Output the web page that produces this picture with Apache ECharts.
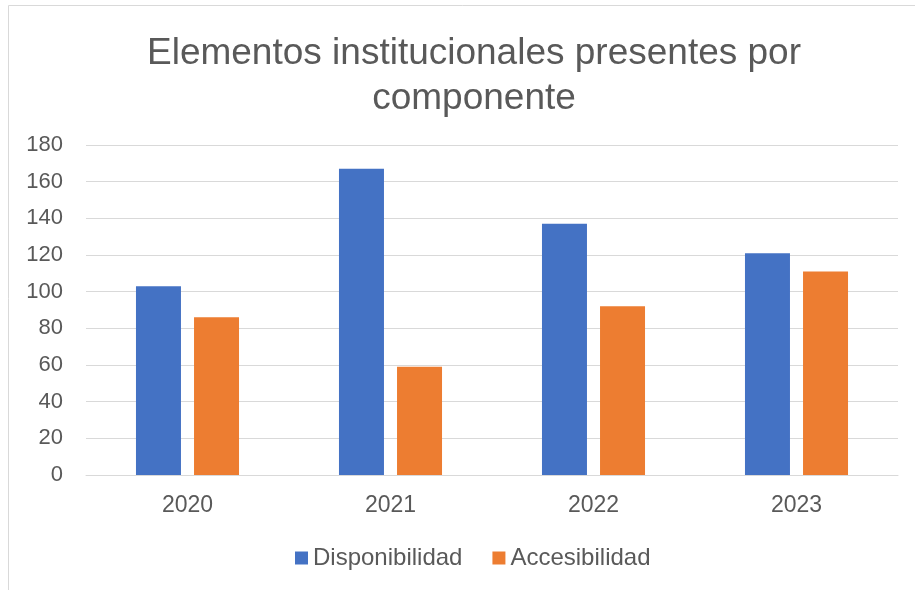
<!DOCTYPE html>
<html lang="es">
  <head>
    <meta charset="UTF-8" />
    <title>Elementos institucionales</title>
    <style>
      html, body { margin: 0; padding: 0; background: #fff; }
      #chart { width: 915px; height: 590px; }
    </style>
    <script src="https://cdn.jsdelivr.net/npm/echarts@6/dist/echarts.min.js"></script>
  </head>
  <body>
    <div id="chart"></div>
    <script>
      const years = ['2020', '2021', '2022', '2023']
      const disponibilidad = [103, 167, 137, 121]
      const accesibilidad = [86, 59, 92, 111]
      const yTicks = { min: 0, max: 180, interval: 20 }

      const font = 'Liberation Sans, Arial, sans-serif'
      const textColor = '#595959'

      const chart = echarts.init(document.getElementById('chart'))

      chart.setOption({
        animation: false,
        title: {
          text: 'Elementos institucionales presentes por\ncomponente',
          left: 469,
          top: 26,
          textAlign: 'center',
          textStyle: {
            fontFamily: font,
            fontSize: 37,
            fontWeight: 'normal',
            color: textColor,
            lineHeight: 45
          }
        },
        // marco del gráfico
        graphic: [{
          type: 'rect',
          shape: { x: 8.5, y: 5.5, width: 1000, height: 700 },
          style: { fill: 'none', stroke: '#d9d9d9', lineWidth: 1 },
          silent: true
        }],
        legend: {
          left: 290,
          top: 541,
          itemWidth: 13,
          itemHeight: 13,
          itemGap: 30,
          icon: 'rect',
          textStyle: { fontFamily: font, fontSize: 24, color: textColor },
          data: ['Disponibilidad', 'Accesibilidad']
        },
        grid: { left: 86, right: 17, top: 145, bottom: 115 },
        xAxis: {
          type: 'category',
          data: years,
          axisTick: { show: false },
          axisLine: { lineStyle: { color: '#d9d9d9', width: 1 } },
          axisLabel: { margin: 19, fontFamily: font, fontSize: 23, color: textColor }
        },
        yAxis: {
          type: 'value',
          min: yTicks.min,
          max: yTicks.max,
          interval: yTicks.interval,
          axisLine: { show: false },
          axisTick: { show: false },
          splitLine: { lineStyle: { color: '#d9d9d9', width: 1 } },
          axisLabel: { margin: 23, fontFamily: font, fontSize: 22, color: textColor }
        },
        series: [
          {
            name: 'Disponibilidad',
            type: 'bar',
            data: disponibilidad,
            barWidth: 45,
            barGap: '29%',
            itemStyle: { color: '#4472c4' }
          },
          {
            name: 'Accesibilidad',
            type: 'bar',
            data: accesibilidad,
            barWidth: 45,
            itemStyle: { color: '#ed7d31' }
          }
        ]
      })
    </script>
  </body>
</html>
